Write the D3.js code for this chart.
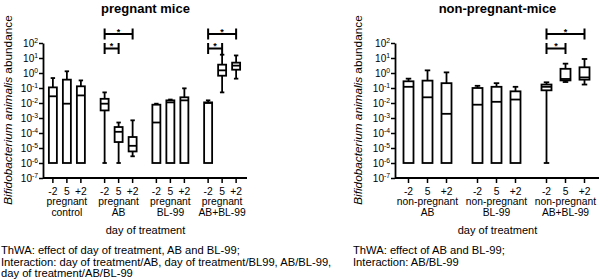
<!DOCTYPE html>
<html>
<head>
<meta charset="utf-8">
<script src="https://cdn.jsdelivr.net/npm/d3@7"></script>
<style>
  body { margin: 0; background: #fff; }
  svg { display: block; font-family: "Liberation Sans", Arial, sans-serif; }
</style>
</head>
<body>
<div id="chart"></div>
<script>
// day-of-treatment categories (shared by every group)
const days = ['-2', '5', '+2'];

// group labels (second line under the "pregnant"/"non-pregnant" line)
const pregnantGroups = ['control', 'AB', 'BL-99', 'AB+BL-99'];
const nonPregnantGroups = ['AB', 'BL-99', 'AB+BL-99'];

// box stats per group, per day: [min, q1, median, q3, max]
const pregnantStats = [
  [[1e-6, 1e-6, 0.028, 0.11, 0.46], [1e-6, 1e-6, 0.009, 0.36, 1.3], [1e-6, 1e-6, 0.032, 0.13, 0.32]],
  [[1e-6, 0.0032, 0.009, 0.019, 0.051], [1e-6, 2.5e-5, 1.2e-4, 2.5e-4, 5e-4], [2.8e-6, 5.9e-6, 1.4e-5, 5.4e-5, 7e-4]],
  [[1e-6, 1e-6, 5e-4, 0.0077, 0.009], [1e-6, 1e-6, 0.011, 0.015, 0.017], [1e-6, 1e-6, 0.015, 0.024, 0.095]],
  [[1e-6, 1e-6, 0.01, 0.011, 0.015], [0.051, 0.66, 1.5, 3.6, 16.6], [0.42, 1.66, 3.1, 4.9, 14.8]]
];
const nonPregnantStats = [
  [[1e-6, 1e-6, 0.12, 0.28, 0.42], [1e-6, 1e-6, 0.024, 0.31, 1.5], [1e-6, 1e-6, 0.0019, 0.21, 1.1]],
  [[1e-6, 1e-6, 0.0077, 0.1, 0.14], [1e-6, 1e-6, 0.012, 0.12, 0.21], [1e-6, 1e-6, 0.017, 0.06, 0.12]],
  [[1e-6, 0.07, 0.12, 0.17, 0.24], [0.25, 0.32, 0.4, 1.9, 4.2], [0.17, 0.36, 0.51, 2.4, 8.6]]
];

// significance brackets: group index, from day index, to day index
const pregnantSig = [
  { group: 1, from: 0, to: 1 }, { group: 1, from: 0, to: 2 },
  { group: 3, from: 0, to: 1 }, { group: 3, from: 0, to: 2 }
];
const nonPregnantSig = [
  { group: 2, from: 0, to: 1 }, { group: 2, from: 0, to: 2 }
];

// y tick exponents (10^k)
const yExponents = [2, 1, 0, -1, -2, -3, -4, -5, -6, -7];

const pregnantNotes = [
  'ThWA: effect of day of treatment, AB and BL-99;',
  'Interaction: day of treatment/AB, day of treatment/BL99, AB/BL-99,',
  'day of treatment/AB/BL-99'
];
const nonPregnantNotes = [
  'ThWA: effect of AB and BL-99;',
  'Interaction: AB/BL-99'
];

const W = 600, H = 280;
const svg = d3.select('#chart').append('svg').attr('width', W).attr('height', H);

const y = d3.scaleLog().domain([1e-7, 1e2]).range([178, 43]);

function drawPanel(cfg) {
  const g = svg.append('g');
  const gx = d3.scaleBand().domain(d3.range(cfg.groups.length)).range(cfg.xRange);
  const dx = d3.scalePoint().domain(days).range([-cfg.inner, cfg.inner]);
  const xPos = (gi, d) => gx(gi) + gx.bandwidth() / 2 + dx(d);
  const plotMid = (cfg.axisX + cfg.xRange[1]) / 2;

  // title
  g.append('text')
    .attr('x', plotMid).attr('y', 13)
    .attr('text-anchor', 'middle')
    .attr('font-size', 13).attr('font-weight', 'bold')
    .text(cfg.title);

  // y axis
  const yAxis = g.append('g')
    .attr('transform', `translate(${cfg.axisX},0)`)
    .call(d3.axisLeft(y).tickValues(yExponents.map(k => Math.pow(10, k)))
      .tickSize(4).tickSizeOuter(0).tickFormat(''));
  yAxis.select('.domain').attr('stroke-width', 1.8);
  yAxis.selectAll('.tick line').attr('stroke-width', 1.5);

  const yl = g.append('g').selectAll('text').data(yExponents).join('text')
    .attr('x', cfg.axisX - 5)
    .attr('y', k => y(Math.pow(10, k)) + 3.5)
    .attr('text-anchor', 'end')
    .attr('font-size', 10);
  yl.append('tspan').text('10');
  yl.append('tspan').attr('font-size', 6.8).attr('dy', -4).text(k => String(k));

  // y axis title
  const yt = g.append('text')
    .attr('transform', `translate(${cfg.yTitleX},110) rotate(-90)`)
    .attr('text-anchor', 'middle')
    .attr('font-size', 11.8);
  yt.append('tspan').attr('font-style', 'italic').text('Bifidobacterium animalis');
  yt.append('tspan').text(' abundance');

  // x axis line and ticks
  const items = [];
  cfg.groups.forEach((name, gi) => days.forEach((d, di) => {
    items.push({ gi, d, s: cfg.stats[gi][di], x: xPos(gi, d) });
  }));

  g.append('line')
    .attr('x1', cfg.axisX).attr('x2', cfg.xRange[1] - 1)
    .attr('y1', y(1e-7)).attr('y2', y(1e-7))
    .attr('stroke', '#000').attr('stroke-width', 1.8);

  g.append('g').selectAll('line').data(items).join('line')
    .attr('x1', d => d.x).attr('x2', d => d.x)
    .attr('y1', y(1e-7)).attr('y2', y(1e-7) + 5)
    .attr('stroke', '#000').attr('stroke-width', 1.5);

  g.append('g').selectAll('text').data(items).join('text')
    .attr('x', d => d.x).attr('y', 195)
    .attr('text-anchor', 'middle').attr('font-size', 10.3)
    .text(d => d.d);

  const gl = g.append('g').selectAll('text').data(cfg.groups).join('text')
    .attr('text-anchor', 'middle').attr('font-size', 10.3);
  gl.append('tspan')
    .attr('x', (d, i) => gx(i) + gx.bandwidth() / 2).attr('y', 205)
    .text(cfg.prefix);
  gl.append('tspan')
    .attr('x', (d, i) => gx(i) + gx.bandwidth() / 2).attr('y', 215.5)
    .text(d => d);

  g.append('text')
    .attr('x', plotMid).attr('y', 234)
    .attr('text-anchor', 'middle').attr('font-size', 11)
    .text('day of treatment');

  // boxes
  const bw = cfg.boxWidth, cw = bw * 0.55;
  const box = g.append('g').attr('stroke', '#000').attr('stroke-width', 1.8)
    .selectAll('g').data(items).join('g');

  box.append('line')
    .attr('x1', d => d.x).attr('x2', d => d.x)
    .attr('y1', d => y(d.s[0])).attr('y2', d => y(d.s[4]));
  box.filter(d => d.s[4] > d.s[3]).append('line')
    .attr('x1', d => d.x - cw / 2).attr('x2', d => d.x + cw / 2)
    .attr('y1', d => y(d.s[4])).attr('y2', d => y(d.s[4]));
  box.filter(d => d.s[0] < d.s[1]).append('line')
    .attr('x1', d => d.x - cw / 2).attr('x2', d => d.x + cw / 2)
    .attr('y1', d => y(d.s[0])).attr('y2', d => y(d.s[0]));
  box.append('rect')
    .attr('x', d => d.x - bw / 2).attr('width', bw)
    .attr('y', d => y(d.s[3]))
    .attr('height', d => y(d.s[1]) - y(d.s[3]))
    .attr('fill', '#fff');
  box.append('line')
    .attr('x1', d => d.x - bw / 2).attr('x2', d => d.x + bw / 2)
    .attr('y1', d => y(d.s[2])).attr('y2', d => y(d.s[2]));

  // significance brackets
  const top = y(1e2);
  const sig = g.append('g').selectAll('g').data(cfg.sig).join('g');
  const by = d => top + 5.5 - (d.to - d.from - 1) * 14.5;
  sig.append('path')
    .attr('d', d => {
      const x1 = xPos(d.group, days[d.from]), x2 = xPos(d.group, days[d.to]), yy = by(d);
      return `M${x1},${yy - 5.5}V${yy + 5.5}M${x1},${yy}H${x2}M${x2},${yy - 5.5}V${yy + 5.5}`;
    })
    .attr('fill', 'none').attr('stroke', '#000').attr('stroke-width', 2);
  sig.append('text')
    .attr('x', d => (xPos(d.group, days[d.from]) + xPos(d.group, days[d.to])) / 2)
    .attr('y', d => by(d) + 0.5)
    .attr('text-anchor', 'middle').attr('font-size', 9).attr('font-weight', 'bold')
    .text('*');

  // notes below
  g.append('g').selectAll('text').data(cfg.notes).join('text')
    .attr('x', cfg.notesX).attr('y', (d, i) => 254 + i * 11.5)
    .attr('font-size', 11.2)
    .text(d => d);
}

drawPanel({
  title: 'pregnant mice', prefix: 'pregnant',
  groups: pregnantGroups, stats: pregnantStats, sig: pregnantSig,
  xRange: [41, 248], inner: 14, axisX: 43, boxWidth: 8,
  yTitleX: 12, notes: pregnantNotes, notesX: 1
});
drawPanel({
  title: 'non-pregnant-mice', prefix: 'non-pregnant',
  groups: nonPregnantGroups, stats: nonPregnantStats, sig: nonPregnantSig,
  xRange: [393, 600], inner: 19, axisX: 395, boxWidth: 10,
  yTitleX: 362, notes: nonPregnantNotes, notesX: 353
});
</script>
</body>
</html>
